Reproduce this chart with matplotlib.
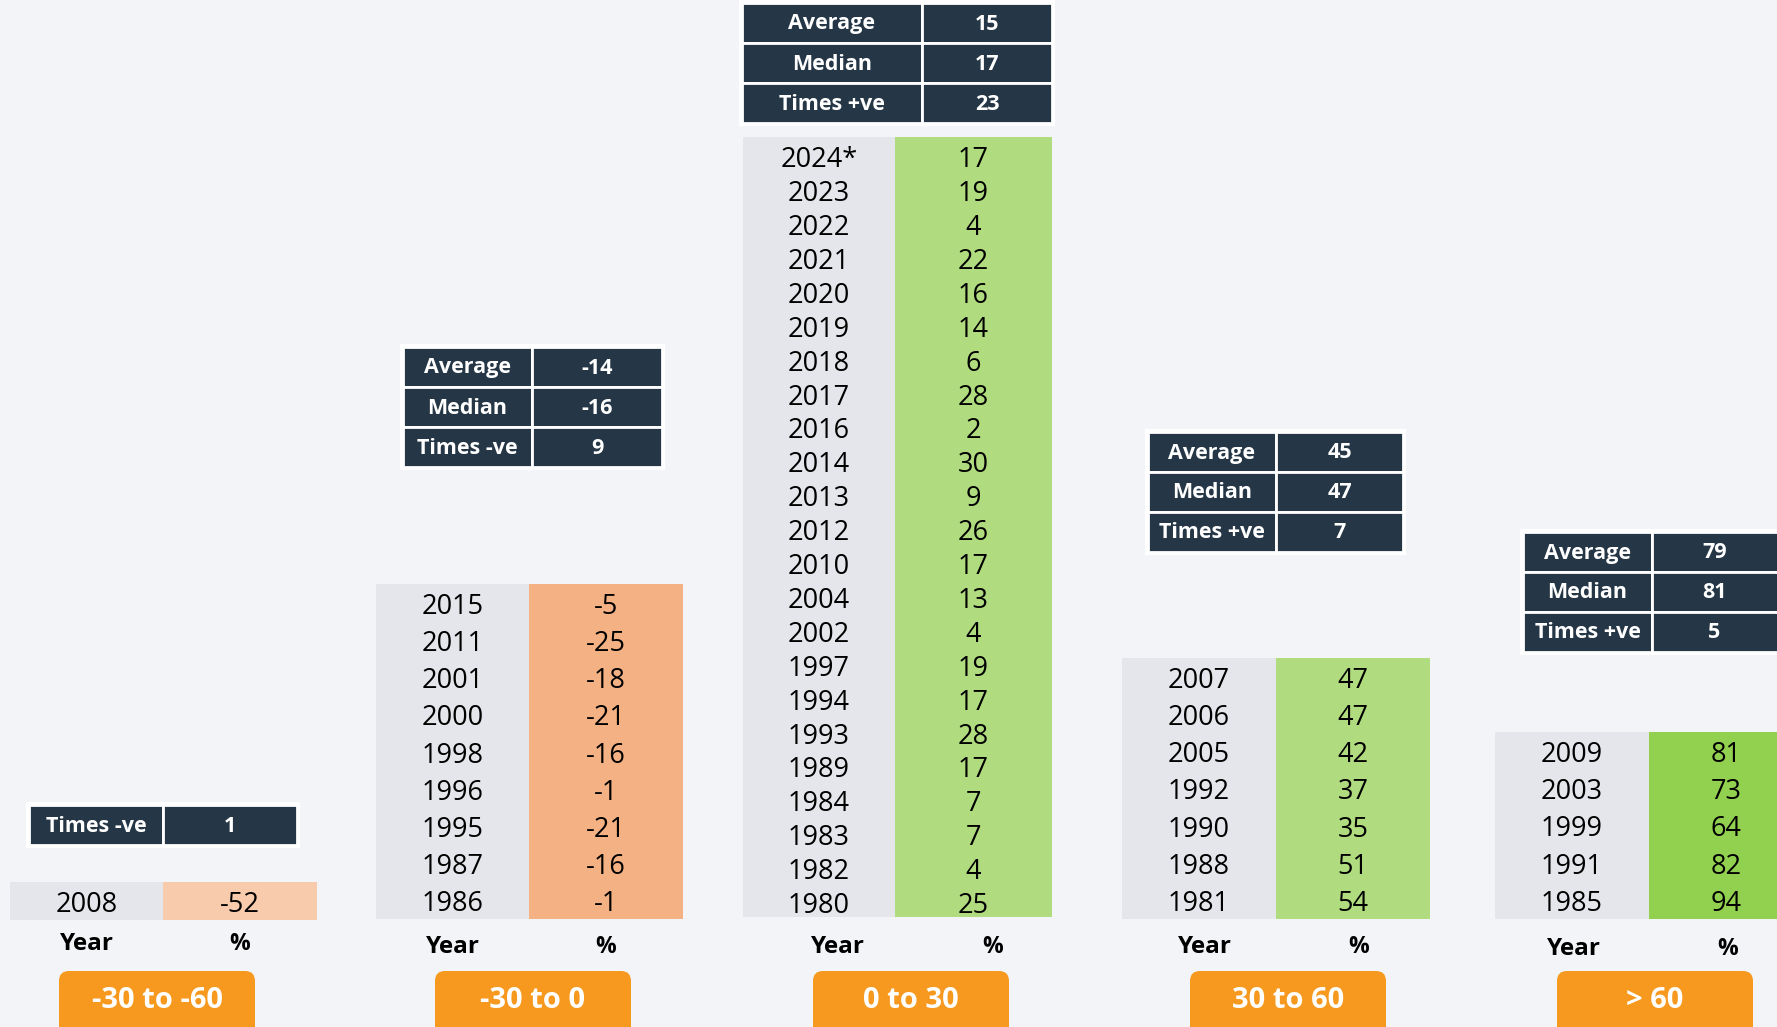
import matplotlib.pyplot as plt
from matplotlib.patches import Rectangle, FancyBboxPatch

plt.rcParams['font.family'] = ['Open Sans', 'Noto Sans', 'DejaVu Sans']

# buckets
groups = ['-30 to -60', '-30 to 0', '0 to 30', '30 to 60', '> 60']

years_g1 = ['2008']
vals_g1 = [-52]
years_g2 = ['2015', '2011', '2001', '2000', '1998', '1996', '1995', '1987', '1986']
vals_g2 = [-5, -25, -18, -21, -16, -1, -21, -16, -1]
years_g3 = ['2024*', '2023', '2022', '2021', '2020', '2019', '2018', '2017', '2016',
            '2014', '2013', '2012', '2010', '2004', '2002', '1997', '1994', '1993',
            '1989', '1984', '1983', '1982', '1980']
vals_g3 = [17, 19, 4, 22, 16, 14, 6, 28, 2, 30, 9, 26, 17, 13, 4, 19, 17, 28, 17, 7, 7, 4, 25]
years_g4 = ['2007', '2006', '2005', '1992', '1990', '1988', '1981']
vals_g4 = [47, 47, 42, 37, 35, 51, 54]
years_g5 = ['2009', '2003', '1999', '1991', '1985']
vals_g5 = [81, 73, 64, 82, 94]

stat_labels_g1 = ['Times -ve']
stat_vals_g1 = ['1']
stat_labels_g2 = ['Average', 'Median', 'Times -ve']
stat_vals_g2 = ['-14', '-16', '9']
stat_labels_g3 = ['Average', 'Median', 'Times +ve']
stat_vals_g3 = ['15', '17', '23']
stat_labels_g4 = ['Average', 'Median', 'Times +ve']
stat_vals_g4 = ['45', '47', '7']
stat_labels_g5 = ['Average', 'Median', 'Times +ve']
stat_vals_g5 = ['79', '81', '5']

BG = '#F2F4F8'
NAVY = '#253746'
GREY = '#E5E6EB'
ORANGE = '#F7991F'

# layout in pixels: table x0, split, x1, bottom, row height, cell colour,
# stats x0, split, x1, top, button centre, header y / x shift
layout = [
    dict(x0=10, xs=163, x1=317, bot=920, rh=38, col='#F8CBAD', sx0=29, ss=163, sx1=297, sy=805, bc=157, hy=944, hx=0),
    dict(x0=376, xs=529, x1=683, bot=919, rh=37.2, col='#F4B183', sx0=403, ss=532, sx1=662, sy=347, bc=533, hy=947, hx=0),
    dict(x0=743, xs=895, x1=1052, bot=917, rh=33.9, col='#B0DC7F', sx0=742, ss=922, sx1=1052, sy=3, bc=911, hy=947, hx=19),
    dict(x0=1122, xs=1276, x1=1430, bot=919, rh=37.3, col='#B0DC7F', sx0=1148, ss=1276, sx1=1403, sy=432, bc=1288, hy=947, hx=6),
    dict(x0=1495, xs=1649, x1=1803, bot=919, rh=37.4, col='#92D050', sx0=1523, ss=1652, sx1=1790, sy=532, bc=1655, hy=949, hx=2),
]
data = [(years_g1, vals_g1, stat_labels_g1, stat_vals_g1),
        (years_g2, vals_g2, stat_labels_g2, stat_vals_g2),
        (years_g3, vals_g3, stat_labels_g3, stat_vals_g3),
        (years_g4, vals_g4, stat_labels_g4, stat_vals_g4),
        (years_g5, vals_g5, stat_labels_g5, stat_vals_g5)]

fig = plt.figure(figsize=(17.77, 10.27), dpi=100, facecolor=BG)
ax = fig.add_axes([0, 0, 1, 1])
ax.set_xlim(0, 1777)
ax.set_ylim(1027, 0)
ax.axis('off')

for name, lay, (yrs, vals, slab, sval) in zip(groups, layout, data):
    n = len(yrs)
    top = lay['bot'] - n * lay['rh']
    # table background
    ax.add_patch(Rectangle((lay['x0'], top), lay['xs'] - lay['x0'], n * lay['rh'], facecolor=GREY, lw=0))
    ax.add_patch(Rectangle((lay['xs'], top), lay['x1'] - lay['xs'], n * lay['rh'], facecolor=lay['col'], lw=0))
    shift = 6 if n > 20 else 4
    for i, (y, v) in enumerate(zip(yrs, vals)):
        cy = top + (i + 0.5) * lay['rh'] + shift
        ax.text((lay['x0'] + lay['xs']) / 2, cy, y, ha='center', va='center', fontsize=19.5, color='black')
        ax.text((lay['xs'] + min(lay['x1'], 1803)) / 2, cy, str(v), ha='center', va='center', fontsize=19.5, color='black')

    # column headers
    ax.text((lay['x0'] + lay['xs']) / 2 + lay['hx'], lay['hy'], 'Year', ha='center', va='center',
            fontsize=17.5, fontweight='bold', color='black')
    ax.text((lay['xs'] + lay['x1']) / 2 + lay['hx'], lay['hy'], '%', ha='center', va='center',
            fontsize=16.5, fontweight='bold', color='black')

    # stats box
    sh = 40
    ax.add_patch(Rectangle((lay['sx0'] - 3, lay['sy'] - 3), lay['sx1'] - lay['sx0'] + 6,
                           len(slab) * sh + 6, facecolor='white', lw=0))
    for j, (l, v) in enumerate(zip(slab, sval)):
        y0 = lay['sy'] + j * sh
        ax.add_patch(Rectangle((lay['sx0'], y0), lay['ss'] - lay['sx0'], sh,
                               facecolor=NAVY, edgecolor='white', lw=2))
        ax.add_patch(Rectangle((lay['ss'], y0), lay['sx1'] - lay['ss'], sh,
                               facecolor=NAVY, edgecolor='white', lw=2))
        ax.text((lay['sx0'] + lay['ss']) / 2, y0 + sh / 2 + 1, l, ha='center', va='center',
                fontsize=15.5, fontweight='bold', color='white')
        ax.text((lay['ss'] + min(lay['sx1'], 1777)) / 2, y0 + sh / 2 + 1, v, ha='center', va='center',
                fontsize=15.5, fontweight='bold', color='white')

    # bucket button
    ax.add_patch(FancyBboxPatch((lay['bc'] - 98, 971), 196, 80,
                                boxstyle='round,pad=0,rounding_size=10',
                                facecolor=ORANGE, lw=0))
    ax.text(lay['bc'], 1000, name, ha='center', va='center', fontsize=21,
            fontweight='bold', color='white')

fig.savefig('out.png', dpi=100, facecolor=BG)
